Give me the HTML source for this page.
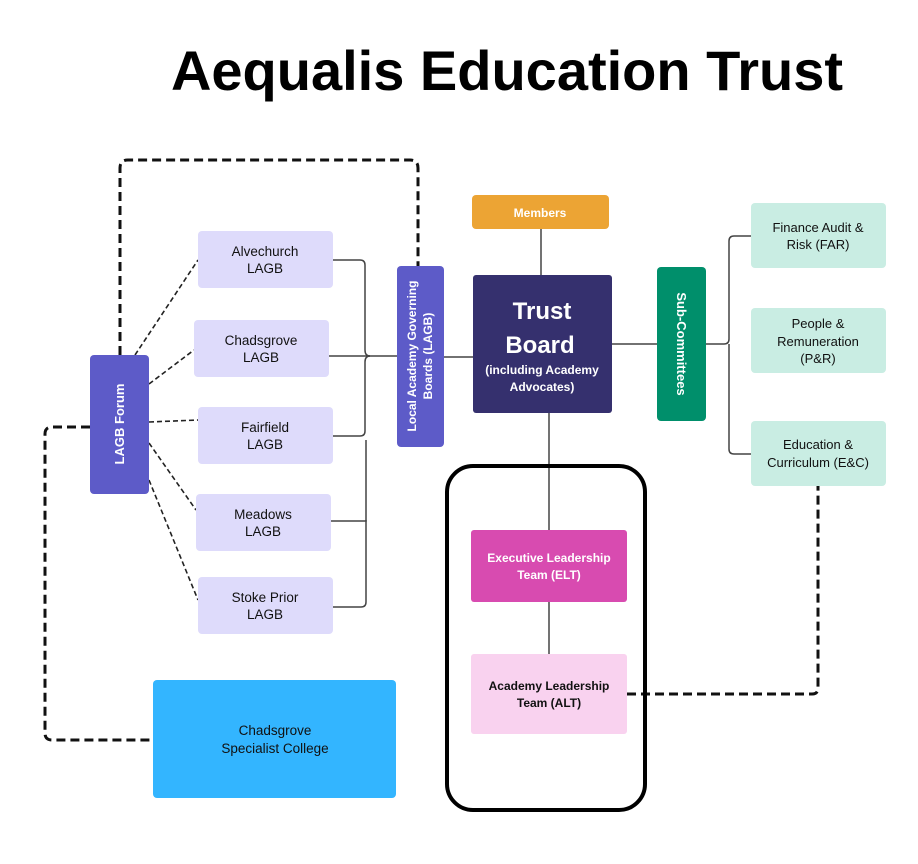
<!DOCTYPE html>
<html><head><meta charset="utf-8"><style>
html,body{margin:0;padding:0;background:#fff}
svg{display:block;font-family:"Liberation Sans",sans-serif}
</style></head><body>
<svg width="918" height="864" viewBox="0 0 918 864" xmlns="http://www.w3.org/2000/svg">
<text x="507" y="90" text-anchor="middle" font-size="56" font-weight="bold" fill="#000">Aequalis Education Trust</text>

<g fill="none" stroke="#111" stroke-width="3" stroke-dasharray="9,5">
<path d="M120 355 V168 Q120 160 128 160 H410 Q418 160 418 168 V266"/>
<path d="M90 427 H52 Q45 427 45 434 V733 Q45 740 52 740 H153"/>
<path d="M627 694 H812 Q818 694 818 688 V486"/>
</g>
<g fill="none" stroke="#222" stroke-width="1.6" stroke-dasharray="5,3">
<line x1="135" y1="355" x2="198" y2="260"/>
<line x1="149" y1="384" x2="194" y2="350"/>
<line x1="149" y1="422" x2="198" y2="420"/>
<line x1="149" y1="443" x2="196" y2="510"/>
<line x1="149" y1="480" x2="198" y2="600"/>
</g>
<g fill="none" stroke="#444" stroke-width="1.5">
<path d="M333 260 H360 Q365 260 365 265 V350 Q365 356 370 356"/>
<path d="M329 356 H397"/>
<path d="M333 436 H360 Q365 436 365 431 V362 Q365 356 370 356"/>
<path d="M331 521 H366 V440"/>
<path d="M333 607 H361 Q366 607 366 602 V520"/>
<path d="M444 357 H473"/>
<path d="M541 229 V275"/>
<path d="M612 344 H657"/>
<path d="M706 344 H724 Q729 344 729 339 V241 Q729 236 734 236 H751"/>
<path d="M729 344 V449 Q729 454 734 454 H751"/>
<path d="M549 413 V530"/>
<path d="M549 602 V654"/>
</g>
<rect x="447" y="466" width="198" height="344" rx="26" fill="none" stroke="#000" stroke-width="4"/>

<rect x="90" y="355" width="59" height="139" rx="4" fill="#5d5bc8"/>
<text transform="translate(124,424) rotate(-90)" text-anchor="middle" font-size="13" font-weight="bold" fill="#fff">LAGB Forum</text>

<g fill="#dedbfb">
<rect x="198" y="231" width="135" height="57" rx="4"/>
<rect x="194" y="320" width="135" height="57" rx="4"/>
<rect x="198" y="407" width="135" height="57" rx="4"/>
<rect x="196" y="494" width="135" height="57" rx="4"/>
<rect x="198" y="577" width="135" height="57" rx="4"/>
</g>
<g font-size="13.5" fill="#111" text-anchor="middle">
<text x="265" y="256">Alvechurch</text><text x="265" y="273">LAGB</text>
<text x="261" y="345">Chadsgrove</text><text x="261" y="362">LAGB</text>
<text x="265" y="432">Fairfield</text><text x="265" y="449">LAGB</text>
<text x="263" y="519">Meadows</text><text x="263" y="536">LAGB</text>
<text x="265" y="602">Stoke Prior</text><text x="265" y="619">LAGB</text>
</g>

<rect x="397" y="266" width="47" height="181" rx="4" fill="#5d5bc8"/>
<text transform="translate(420,356) rotate(-90)" text-anchor="middle" font-size="12" font-weight="bold" fill="#fff"><tspan x="0" y="-4">Local Academy Governing</tspan><tspan x="0" y="12">Boards (LAGB)</tspan></text>

<rect x="472" y="195" width="137" height="34" rx="4" fill="#eca434"/>
<text x="540" y="217" text-anchor="middle" font-size="12" font-weight="bold" fill="#fff">Members</text>

<rect x="473" y="275" width="139" height="138" rx="3" fill="#35306e"/>
<g fill="#fff" text-anchor="middle" font-weight="bold">
<text x="542" y="319" font-size="24">Trust</text>
<text x="540" y="353" font-size="24">Board</text>
<text x="542" y="374" font-size="12">(including Academy</text>
<text x="542" y="391" font-size="12">Advocates)</text>
</g>

<rect x="657" y="267" width="49" height="154" rx="4" fill="#008f6b"/>
<text transform="translate(677,344) rotate(90)" text-anchor="middle" font-size="13" font-weight="bold" fill="#fff">Sub-Committees</text>

<g fill="#c9ede3">
<rect x="751" y="203" width="135" height="65" rx="4"/>
<rect x="751" y="308" width="135" height="65" rx="4"/>
<rect x="751" y="421" width="135" height="65" rx="4"/>
</g>
<g font-size="13" fill="#111" text-anchor="middle">
<text x="818" y="232">Finance Audit &amp;</text><text x="818" y="249">Risk (FAR)</text>
<text x="818" y="328">People &amp;</text><text x="818" y="346">Remuneration</text><text x="818" y="363">(P&amp;R)</text>
<text x="818" y="449">Education &amp;</text><text x="818" y="467">Curriculum (E&amp;C)</text>
</g>

<rect x="471" y="530" width="156" height="72" rx="3" fill="#d84bb0"/>
<text x="549" y="562" text-anchor="middle" font-size="12" font-weight="bold" fill="#fff">Executive Leadership</text>
<text x="549" y="579" text-anchor="middle" font-size="12" font-weight="bold" fill="#fff">Team (ELT)</text>

<rect x="471" y="654" width="156" height="80" rx="3" fill="#f9d2ef"/>
<text x="549" y="690" text-anchor="middle" font-size="12" font-weight="bold" fill="#111">Academy Leadership</text>
<text x="549" y="707" text-anchor="middle" font-size="12" font-weight="bold" fill="#111">Team (ALT)</text>

<rect x="153" y="680" width="243" height="118" rx="4" fill="#33b5ff"/>
<text x="275" y="735" text-anchor="middle" font-size="13.5" fill="#111">Chadsgrove</text>
<text x="275" y="753" text-anchor="middle" font-size="13.5" fill="#111">Specialist College</text>
</svg>
</body></html>
